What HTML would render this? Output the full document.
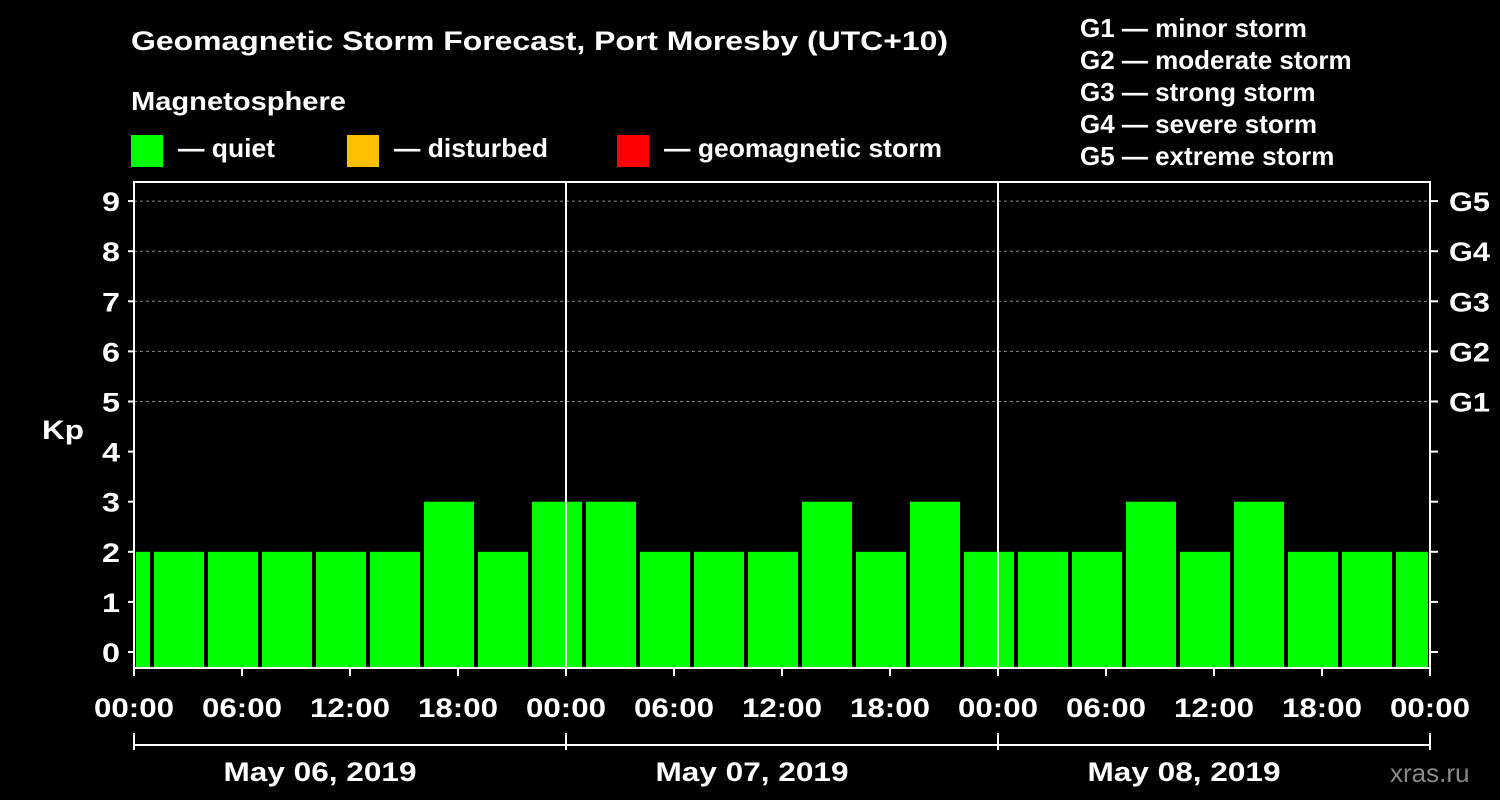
<!DOCTYPE html>
<html><head><meta charset="utf-8"><style>
html,body{margin:0;padding:0;background:#000;}
svg{display:block;font-family:"Liberation Sans",Arial,sans-serif;font-weight:bold;}
</style></head><body>
<svg id="chart" width="1500" height="800" viewBox="0 0 1500 800">
<rect width="1500" height="800" fill="#000"/>
<text x="131" y="50" fill="#fff" font-size="27" textLength="817" lengthAdjust="spacingAndGlyphs">Geomagnetic Storm Forecast, Port Moresby (UTC+10)</text>
<text x="131" y="110" fill="#fff" font-size="26" textLength="215" lengthAdjust="spacingAndGlyphs">Magnetosphere</text>
<g><rect x="131" y="135" width="32" height="32" fill="#00ff00"/><text x="178" y="157" fill="#fff" font-size="26" textLength="97" lengthAdjust="spacingAndGlyphs">— quiet</text></g>
<g><rect x="347" y="135" width="32" height="32" fill="#ffc000"/><text x="394" y="157" fill="#fff" font-size="26" textLength="154" lengthAdjust="spacingAndGlyphs">— disturbed</text></g>
<g><rect x="617" y="135" width="32" height="32" fill="#ff0000"/><text x="664" y="157" fill="#fff" font-size="26" textLength="278" lengthAdjust="spacingAndGlyphs">— geomagnetic storm</text></g>
<g fill="#fff" font-size="26">
<text x="1080" y="37">G1 — minor storm</text>
<text x="1080" y="69">G2 — moderate storm</text>
<text x="1080" y="101">G3 — strong storm</text>
<text x="1080" y="133">G4 — severe storm</text>
<text x="1080" y="165">G5 — extreme storm</text>
</g>
<text x="42" y="439" fill="#fff" font-size="27" textLength="42" lengthAdjust="spacingAndGlyphs">Kp</text>
<text x="1390" y="782" fill="#888" font-size="26" font-weight="normal">xras.ru</text>
<g id="grid"></g><g id="bars"></g><g id="axes"></g>
</svg>
<script>
const kpValues=[2,2,2,2,2,2,3,2,3,3,2,2,2,3,2,3,2,2,2,3,2,3,2,2,2];
const yTicks=[0,1,2,3,4,5,6,7,8,9];
const gLabels=["","","","","","G1","G2","G3","G4","G5"];
const xTickLabels=["00:00","06:00","12:00","18:00","00:00","06:00","12:00","18:00","00:00","06:00","12:00","18:00","00:00"];
const dayLabels=["May 06, 2019","May 07, 2019","May 08, 2019"];
const firstSlotHour=-2, slotHours=3;
const L=134,R=1430,T=182,B=668;
const X=h=>L+h*18;
const Y=k=>652-k*50.1;
const NS="http://www.w3.org/2000/svg";
function mk(t,a,p){const e=document.createElementNS(NS,t);for(const k in a)e.setAttribute(k,a[k]);p.appendChild(e);return e;}
const grid=document.getElementById('grid'),bars=document.getElementById('bars'),axes=document.getElementById('axes');
yTicks.forEach((v,i)=>{
  const y=Y(v);
  if(gLabels[i]){const l=mk('line',{x1:L,x2:R,y1:y,y2:y,stroke:'#888','stroke-dasharray':'3,3'},grid);
  
  }
  const t=mk('text',{x:L-14,y:y+10,fill:'#fff','font-size':27,'text-anchor':'end',textLength:18,lengthAdjust:'spacingAndGlyphs'},axes);t.textContent=v;
  
  
  mk('line',{x1:L-6,x2:L,y1:y,y2:y,stroke:'#fff','stroke-width':2},axes);
  mk('line',{x1:R,x2:R+8,y1:y,y2:y,stroke:'#fff','stroke-width':2},axes);
  if(gLabels[i]){const g=mk('text',{x:R+19,y:y+10,fill:'#fff','font-size':27,textLength:41,lengthAdjust:'spacingAndGlyphs'},axes);g.textContent=gLabels[i];
  
  }
});
kpValues.forEach((v,i)=>{
  const h0=firstSlotHour+i*slotHours;
  let x0=Math.max(X(h0)+2,L+2),x1=Math.min(X(h0+slotHours)-2,R-2);
  const c=v>=5?'#ff0000':(v>=4?'#ffc000':'#00ff00');
  const r=mk('rect',{x:x0,y:Y(v),width:x1-x0,height:B-Y(v),fill:c},bars);
  
  
});
[1,2].forEach(d=>{mk('line',{x1:X(d*24),x2:X(d*24),y1:T,y2:B,stroke:'#fff','stroke-width':2},axes);});
mk('rect',{x:L,y:T,width:R-L,height:B-T,fill:'none',stroke:'#fff','stroke-width':2},axes);
xTickLabels.forEach((s,i)=>{
  const x=X(i*6);
  mk('line',{x1:x,x2:x,y1:B,y2:B+8,stroke:'#fff','stroke-width':2},axes);
  const t=mk('text',{x:x,y:717,fill:'#fff','font-size':27,'text-anchor':'middle',textLength:80,lengthAdjust:'spacingAndGlyphs'},axes);t.textContent=s;
  
  
});
mk('line',{x1:L,x2:R,y1:745,y2:745,stroke:'#fff','stroke-width':2},axes);
[0,1,2,3].forEach(d=>mk('line',{x1:X(d*24),x2:X(d*24),y1:733,y2:750,stroke:'#fff','stroke-width':2},axes));
dayLabels.forEach((s,i)=>{
  const t=mk('text',{x:X(i*24+12)-30,y:781,fill:'#fff','font-size':27,'text-anchor':'middle',textLength:193,lengthAdjust:'spacingAndGlyphs'},axes);t.textContent=s;
  
  
});
</script>
</body></html>
